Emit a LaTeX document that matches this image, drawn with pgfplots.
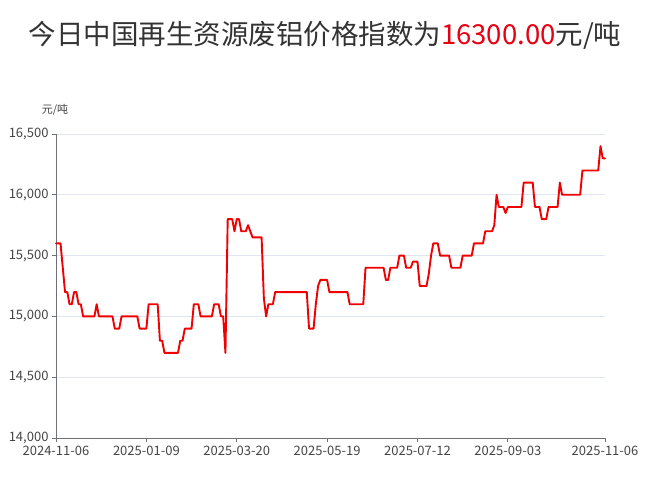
\documentclass[border=0pt]{standalone}
\usepackage{pgfplots}
\pgfplotsset{compat=1.18}
\usepackage{fontspec}
\setmainfont{Noto Sans CJK SC}
\definecolor{titlegray}{HTML}{333333}
\definecolor{axisgray}{HTML}{6E7079}
\definecolor{gridgray}{HTML}{E0E6F1}
\definecolor{labgray}{HTML}{444444}
\definecolor{linered}{HTML}{F00000}
\definecolor{titlered}{HTML}{E60012}
\pgfplotstableread{
x y
0 15600
2 15600
3 15400
4 15200
5 15200
6 15100
7 15100
8 15200
9 15200
10 15100
11 15100
12 15000
17 15000
18 15100
19 15000
25 15000
26 14900
28 14900
29 15000
36 15000
37 14900
40 14900
41 15100
45 15100
46 14800
47 14800
48 14700
54 14700
55 14800
56 14800
57 14900
60 14900
61 15100
63 15100
64 15000
69 15000
70 15100
72 15100
73 15000
74 15000
75 14700
76 15800
78 15800
79 15700
80 15800
81 15800
82 15700
84 15700
85 15750
86 15700
87 15650
91 15650
92 15150
93 15000
94 15100
96 15100
97 15200
111 15200
112 14900
114 14900
115 15100
116 15250
117 15300
120 15300
121 15200
129 15200
130 15100
136 15100
137 15400
145 15400
146 15300
147 15300
148 15400
151 15400
152 15500
154 15500
155 15400
157 15400
158 15450
160 15450
161 15250
164 15250
165 15350
166 15500
167 15600
169 15600
170 15500
174 15500
175 15400
179 15400
180 15500
184 15500
185 15600
189 15600
190 15700
193 15700
194 15750
195 16000
196 15900
198 15900
199 15850
200 15900
206 15900
207 16100
211 16100
212 15900
214 15900
215 15800
217 15800
218 15900
222 15900
223 16100
224 16000
232 16000
233 16200
240 16200
241 16400
242 16300
243 16300
}\pricedata
\begin{document}
\begin{tikzpicture}[x=1pt,y=1pt]
\useasboundingbox (0,0) rectangle (660,484);
\node[font=\fontsize{27.5}{30}\selectfont, text=titlegray] at (325,449) {今日中国再生资源废铝价格指数为\textcolor{titlered}{16300.00}元/吨};
\node[font=\fontsize{11}{13}\selectfont, text=labgray] at (55,374) {元/吨};
\begin{axis}[
  at={(56pt,46pt)}, anchor=south west,
  scale only axis, width=549pt, height=304pt,
  xmin=0, xmax=243, ymin=14000, ymax=16500,
  xtick={0,40,80,120,160,200,243},
  xticklabels={2024-11-06,2025-01-09,2025-03-20,2025-05-19,2025-07-12,2025-09-03,2025-11-06},
  ytick={14000,14500,15000,15500,16000,16500},
  /pgf/number format/assume math mode=true,
  /pgf/number format/1000 sep={,},
  scaled y ticks=false,
  axis x line*=bottom, axis y line*=left,
  axis line style={axisgray, line width=0.8pt},
  every tick/.style={axisgray, line width=0.8pt},
  tick align=outside,
  major tick length=4pt,
  ymajorgrids, grid style={gridgray, line width=0.8pt},
  tick label style={font=\fontsize{13}{15}\selectfont, text=labgray},
  xticklabel style={yshift=-1pt},
  yticklabel style={xshift=0pt},
  clip=false,
]
\addplot[linered, line width=1.9pt, line join=round, line cap=round] table[x=x,y=y] {\pricedata};
\end{axis}
\end{tikzpicture}
\end{document}
